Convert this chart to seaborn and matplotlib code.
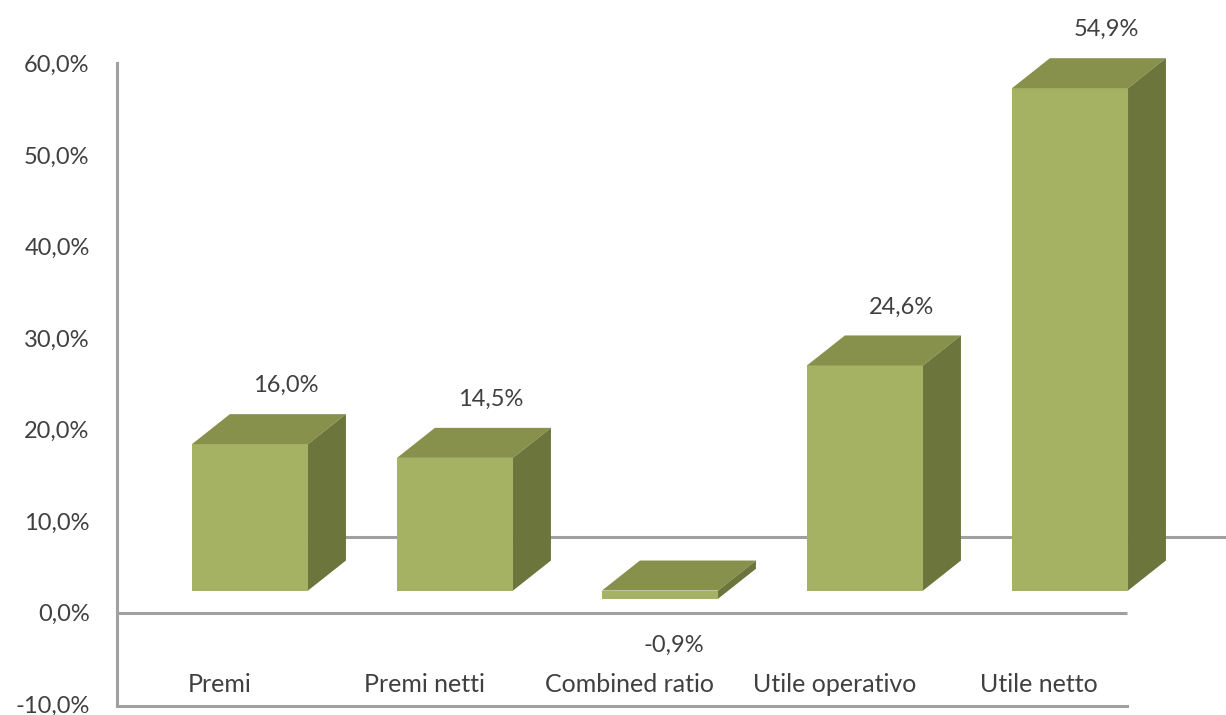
import numpy as np
import matplotlib
matplotlib.use("Agg")
import matplotlib.pyplot as plt
from matplotlib.patches import Polygon
from matplotlib.ticker import FuncFormatter
import seaborn as sns

# --- data ---
categories = ["Premi", "Premi netti", "Combined ratio", "Utile operativo", "Utile netto"]
values = [16.0, 14.5, -0.9, 24.6, 54.9]
value_labels = ["16,0%", "14,5%", "-0,9%", "24,6%", "54,9%"]
yticks = [-10, 0, 10, 20, 30, 40, 50, 60]

# --- style ---
FRONT = "#A6B263"
TOP = "#88914C"
SIDE = "#6B753C"
LINE = "#A0A0A0"
TEXT = "#404040"

sns.set_style("white")
plt.rcParams["font.family"] = ["Lato", "DejaVu Sans"]

fig = plt.figure(figsize=(12.26, 7.15), dpi=100)
ax = fig.add_axes([0, 0, 1, 1])

BAR_W = 0.566      # front face width (category units)
BASE = 2.4         # floor of the 3D bars sits a bit above the 0 line
DX, DY = 0.185, 3.28   # depth offset of the 3D effect

sns.barplot(x=categories, y=values, color=FRONT, saturation=1, width=BAR_W,
            edgecolor="none", linewidth=0, ax=ax, zorder=3)

# back wall floor line
ax.plot([-0.26, 4.8], [8.2, 8.2], color=LINE, lw=2.2, zorder=1, solid_capstyle="butt")
# zero line
ax.plot([-0.65, 4.28], [0, 0], color=LINE, lw=2.2, zorder=1, solid_capstyle="butt")

for i, p in enumerate(ax.patches):
    p.set_y(p.get_y() + BASE)
    x0 = p.get_x()
    x1 = x0 + p.get_width()
    y0 = p.get_y()
    y1 = y0 + p.get_height()
    top, bot = max(y0, y1), min(y0, y1)
    ax.add_patch(Polygon([(x0, top), (x0 + DX, top + DY), (x1 + DX, top + DY), (x1, top)],
                         closed=True, facecolor=TOP, edgecolor="none", zorder=3))
    ax.add_patch(Polygon([(x1, bot), (x1, top), (x1 + DX, top + DY), (x1 + DX, bot + DY)],
                         closed=True, facecolor=SIDE, edgecolor="none", zorder=3))
    if values[i] >= 0:
        ax.text(i + DX * 0.95, top + DY + 3.1, value_labels[i], ha="center", va="center",
                fontsize=17, color=TEXT)
    else:
        ax.text(i + 0.065, bot - 5.1, value_labels[i], ha="center", va="center",
                fontsize=17, color=TEXT)

ax.set_xlim(-250 / 205, (1226 - 250) / 205)
ax.set_ylim((612.5 - 715) / 9.15, 612.5 / 9.15)

for s in ["top", "right"]:
    ax.spines[s].set_visible(False)
ax.spines["left"].set_position(("data", -0.65))
ax.spines["left"].set_bounds(-10.2, 60.1)
ax.spines["bottom"].set_position(("data", -10.2))
ax.spines["bottom"].set_bounds(-0.65, 4.28)
for s in ["left", "bottom"]:
    ax.spines[s].set_color(LINE)
    ax.spines[s].set_linewidth(2.2)

ax.set_yticks(yticks)
ax.yaxis.set_major_formatter(FuncFormatter(lambda v, _: f"{v:.1f}%".replace(".", ",")))
ax.set_xticks(np.arange(len(categories)) - 0.15)
ax.set_xticklabels(categories)
ax.tick_params(axis="y", length=0, pad=19.5, labelsize=17, labelcolor=TEXT)
ax.tick_params(axis="x", length=0, pad=-23.5, labelsize=18, labelcolor=TEXT)
ax.set_xlabel("")
ax.set_ylabel("")

fig.savefig("out.png", dpi=100)
